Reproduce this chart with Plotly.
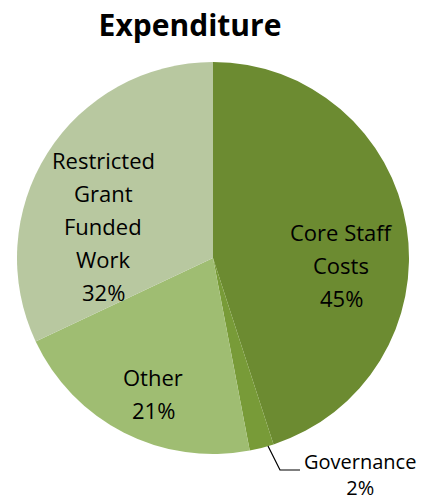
import plotly.graph_objects as go

categories = ["Core Staff Costs", "Governance", "Other", "Restricted Grant Funded Work"]
values = [45, 2, 21, 32]
colors = ["#6c8b31", "#789b38", "#9fbd72", "#b8c8a0"]
label_lines = [["Core Staff", "Costs", "45%"], ["Governance", "2%"], ["Other", "21%"],
               ["Restricted", "Grant", "Funded", "Work", "32%"]]

W, H = 428, 503
cx, cy, r = 213, 258, 196

fig = go.Figure(go.Pie(
    labels=categories, values=values, sort=False, direction="clockwise", rotation=0,
    marker=dict(colors=colors, line=dict(width=0)),
    textinfo="none", hoverinfo="label+percent", showlegend=False,
    domain=dict(x=[(cx - r) / W, (cx + r) / W], y=[1 - (cy + r) / H, 1 - (cy - r) / H]),
))

font = dict(family="Open Sans, Lato, sans-serif", size=22, color="#000000")
# first-line anchor (pixels) and line step
anchors = [(341, 232), None, (153, 377), (103, 160)]
step = 33
ann = []
for lines, a in zip(label_lines, anchors):
    if a is None:
        continue
    for i, t in enumerate(lines):
        ann.append(dict(x=a[0] / W, y=1 - (a[1] + i * step) / H, xref="paper", yref="paper",
                        text=t, showarrow=False, font=font, xanchor="center", yanchor="middle"))
gov = label_lines[1]
ann.append(dict(x=360 / W, y=1 - 474 / H, xref="paper", yref="paper", text="<br>".join(gov),
                showarrow=False, font=dict(font, size=20), xanchor="center", yanchor="middle",
                align="center", borderpad=0))

fig.update_layout(
    width=W, height=H, margin=dict(l=0, r=0, t=0, b=0),
    paper_bgcolor="white", plot_bgcolor="white",
    title=dict(text="<b>Expenditure</b>", x=190 / W, xanchor="center", y=1 - 25 / H, yanchor="middle",
               font=dict(family="Open Sans, Lato, sans-serif", size=30, color="#000000")),
    annotations=ann,
    shapes=[dict(type="path", xref="paper", yref="paper",
                 path=f"M {268/W} {1-446/H} L {280/W} {1-470/H} L {300/W} {1-470/H}",
                 line=dict(color="#000000", width=1.2))],
)

fig.write_html("out.html")
